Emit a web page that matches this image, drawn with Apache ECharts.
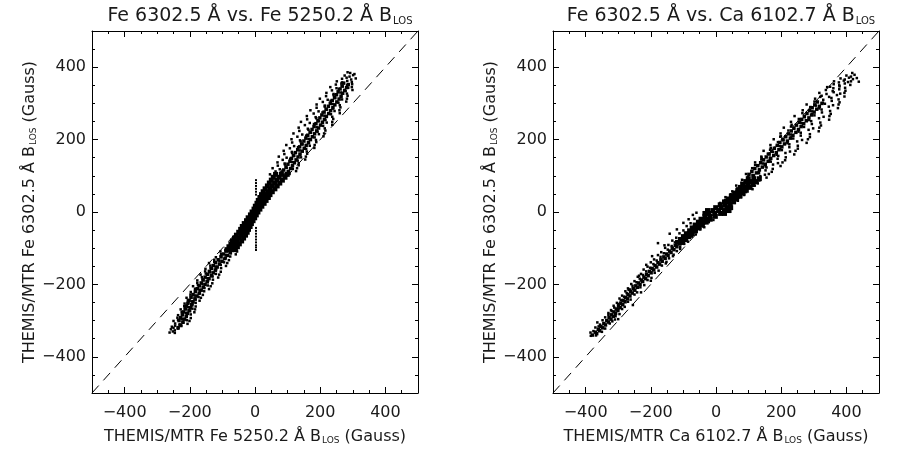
<!DOCTYPE html>
<html>
<head>
<meta charset="utf-8">
<script src="https://cdn.jsdelivr.net/npm/echarts@6/dist/echarts.min.js"></script>
<style>
  html, body { margin: 0; padding: 0; background: #fff; }
  #chart { width: 898px; height: 452px; }
</style>
</head>
<body>
<div id="chart"></div>
<script>
// ---- data (Gauss) ----
const tickValues = [-400, -200, 0, 200, 400];
const diagonal = [[-500, -500], [500, 500]];

// Fe 6302.5 vs Fe 5250.2 : scattered pixels
const leftHalo = [
  [-262,-333],[-252,-330],[-246,-334],[-258,-324],[-246,-327],[-236,-322],[-250,-320],
  [-255,-317],[-245,-314],[-235,-318],[-226,-315],[-245,-308],[-232,-311],[-220,-306],[-207,-309],
  [-250,-301],[-236,-298],[-222,-303],[-209,-299],[-201,-301],[-238,-292],[-224,-295],[-210,-290],[-197,-293],
  [-236,-285],[-222,-282],[-209,-286],[-197,-283],[-225,-276],[-212,-279],[-199,-274],[-186,-277],
  [-228,-269],[-215,-266],[-203,-271],[-192,-267],[-184,-269],[-217,-260],[-205,-263],[-193,-258],[-182,-261],
  [-216,-253],[-204,-250],[-192,-254],[-182,-251],[-206,-244],[-194,-247],[-182,-242],[-170,-245],
  [-210,-237],[-197,-234],[-185,-239],[-173,-235],[-166,-237],[-198,-228],[-185,-231],[-172,-226],[-160,-229],
  [-197,-221],[-183,-218],[-169,-222],[-156,-219],[-184,-212],[-170,-215],[-155,-210],[-141,-213],
  [-190,-205],[-175,-202],[-159,-207],[-145,-203],[-136,-205],[-177,-196],[-161,-199],[-145,-194],[-131,-197],
  [-177,-189],[-161,-186],[-144,-190],[-129,-187],[-163,-180],[-146,-183],[-130,-178],[-113,-181],
  [-167,-173],[-151,-170],[-134,-175],[-120,-171],[-110,-173],[-153,-164],[-137,-167],[-120,-162],[-105,-165],
  [-152,-157],[-136,-154],[-119,-158],[-104,-155],[-137,-148],[-121,-151],[-105,-146],[-89,-149],
  [-141,-141],[-125,-138],[-109,-143],[-95,-139],[-85,-141],[-125,-132],[-109,-135],[-94,-130],[-80,-133],
  [-120,-125],[-105,-122],[-90,-126],[-76,-123],[-104,-116],[-89,-119],[-74,-114],[-59,-117],
  [-106,-109],[-91,-106],[-77,-111],[-63,-107],[-55,-109],
  [46,104],[67,107],[87,102],[106,105],[63,112],[84,114],[105,110],[126,113],
  [54,121],[76,118],[97,122],[116,119],[129,121],[70,128],[92,131],[114,126],[134,129],
  [69,137],[91,134],[114,138],[134,135],[85,144],[108,147],[131,142],[154,145],
  [73,153],[97,150],[120,155],[141,151],[156,153],[90,160],[114,163],[138,158],[160,161],
  [88,169],[113,166],[137,170],[159,167],[107,176],[132,179],[157,174],[182,177],
  [96,185],[120,182],[146,187],[168,183],[183,185],[114,192],[140,195],[165,190],[188,193],
  [112,201],[138,198],[164,202],[187,199],[130,208],[157,211],[183,206],[210,209],
  [118,217],[145,214],[172,219],[196,215],[212,217],[136,224],[164,227],[192,222],[216,225],
  [134,233],[162,230],[189,234],[214,231],[153,240],[181,243],[209,238],[237,241],
  [141,249],[168,246],[196,251],[220,247],[237,249],[160,256],[188,259],[216,254],[240,257],
  [159,265],[186,262],[213,266],[237,263],[180,272],[207,275],[233,270],[260,273],
  [170,281],[195,278],[221,283],[244,279],[259,281],[189,288],[214,291],[239,286],[262,289],
  [189,297],[214,294],[238,298],[260,295],[208,304],[232,307],[256,302],[280,305],
  [199,313],[223,310],[246,315],[267,311],[282,313],[218,320],[241,323],[264,318],[284,321],
  [219,329],[241,326],[263,330],[282,327],[236,336],[257,339],[278,334],[299,337],
  [231,345],[250,342],[269,347],[286,343],[297,345],[248,352],[265,355],[283,350],[298,353],
  [251,361],[267,358],[283,362],[297,359],[267,368],[281,371],[295,366],[309,369],
  [275,377],[290,374],[301,378],[292,384],[305,381],[284,386]
];
// darker middle of the band
const leftSpine = [
  [-76,-112],[-84,-120],[-92,-128],[-101,-136],[-109,-144],[-116,-152],[-122,-160],[-128,-168],[-134,-176],
  [-141,-184],[-147,-192],[-153,-200],[-159,-208],[-165,-216],[-171,-224],[-178,-232],[-184,-240],[-190,-248],
  [-194,-256],[-198,-264],[-202,-272],[-207,-280],[-211,-288],[-216,-296],[-221,-304],[-228,-312],[-236,-320],
  [-88,-108],[-96,-116],[-104,-124],[-113,-132],[-121,-140],[-128,-148],[-134,-156],[-140,-164],[-146,-172],
  [-153,-180],[-159,-188],[-165,-196],[-171,-204],[-177,-212],[-183,-220],[-190,-228],[-196,-236],[-202,-244],
  [-206,-252],[-210,-260],[-214,-268],[-219,-276],[-223,-284],[-228,-292],[-233,-300],
  [81,108],[88,116],[95,124],[101,132],[107,140],[112,148],[118,156],[124,164],[131,172],[137,180],
  [143,188],[150,196],[156,204],[162,212],[169,220],[175,228],[181,236],[187,244],[193,252],[199,260],
  [205,268],[212,276],[218,284],[225,292],[231,300],[237,308],[244,316],[250,324],[255,332],[261,340],
  [267,348],[272,356],
  [95,104],[102,112],[109,120],[115,128],[121,136],[126,144],[132,152],[138,160],[145,168],[151,176],
  [157,184],[164,192],[170,200],[176,208],[183,216],[189,224],[195,232],[201,240],[207,248],[213,256],
  [219,264],[226,272],[232,280],[239,288],[245,296],[251,304],[258,312],[264,320],[269,328],[275,336],
  [281,344],[286,352]
];
// solid black core
const leftCore = [
  [-86,-104],[-73,-104],[-60,-104],[-80,-96],[-67,-96],[-54,-96],[-74,-88],[-61,-88],[-48,-88],
  [-69,-80],[-55,-80],[-41,-80],[-63,-72],[-49,-72],[-35,-72],[-57,-64],[-43,-64],[-29,-64],
  [-50,-56],[-37,-56],[-24,-56],[-44,-48],[-32,-48],[-20,-48],[-39,-40],[-27,-40],[-15,-40],
  [-33,-32],[-22,-32],[-11,-32],[-26,-24],[-16,-24],[-6,-24],[-21,-16],[-11,-16],[-1,-16],
  [-14,-8],[-5,-8],[4,-8],[-9,0],[0,0],[9,0],[-3,8],[6,8],[15,8],[1,16],[11,16],[21,16],
  [6,24],[17,24],[28,24],[10,32],[22,32],[34,32],[15,40],[28,40],[41,40],[20,48],[33,48],[46,48],
  [25,56],[39,56],[53,56],[31,64],[46,64],[61,64],[38,72],[53,72],[68,72],[44,80],[60,80],[76,80],
  [50,88],[67,88],[84,88],[56,96],[74,96],[92,96],[63,104],[81,104],[99,104]
];
// vertical streak at zero
const leftColumn = [
  [3,88],[3,80],[3,72],[3,64],[3,56],[3,48],
  [3,-44],[3,-52],[3,-60],[3,-68],[3,-76],[3,-84],[3,-92],[3,-98],[3,-105]
];

// Fe 6302.5 vs Ca 6102.7 : scattered pixels
const rightHalo = [
  [-384,-342],[-368,-341],[-376,-329],[-350,-331],[-385,-333],[-370,-319],[-340,-322],[-360,-316],
  [-356,-311],[-326,-308],[-364,-305],[-348,-299],[-318,-302],[-310,-297],[-340,-291],[-308,-288],[-330,-284],
  [-330,-279],[-296,-282],[-320,-274],[-322,-271],[-288,-268],[-312,-264],[-314,-259],[-280,-262],[-300,-254],
  [-304,-251],[-270,-248],[-292,-244],[-296,-239],[-262,-242],[-282,-234],[-288,-231],[-250,-228],[-274,-224],
  [-278,-219],[-242,-222],[-264,-214],[-270,-211],[-232,-208],[-256,-204],[-260,-199],[-220,-202],[-244,-194],
  [-250,-191],[-210,-188],[-234,-184],[-240,-179],[-198,-182],[-224,-174],[-230,-171],[-188,-168],[-214,-164],
  [-222,-159],[-176,-162],[-202,-154],[-210,-151],[-166,-148],[-192,-144],[-200,-139],[-154,-142],[-182,-134],
  [-190,-131],[-144,-128],[-170,-124],[-178,-119],[-132,-122],[-160,-114],[-168,-111],[-120,-108],[-148,-104],
  [-156,-99],[-110,-102],[-136,-94],[-146,-91],[-98,-88],[-126,-84],[-134,-79],[-86,-82],[-122,-71],[-74,-68],
  [-112,-59],[-62,-62],[-100,-51],[-48,-48],[-90,-39],[-36,-42],[-78,-31],[-22,-28],[-66,-19],[-8,-22],
  [-300,-268],[-268,-215],[-236,-176],[-214,-146],[-196,-122],[-178,-86],[-158,-92],[-142,-60],[-120,-48],
  [-100,-30],[-84,-20],[-71,-8],[-60,-2],
  [-255,-257],[-230,-222],[-200,-190],[-152,-138],[-130,-118],[-110,-96],[-300,-296],
  [13,25],[25,22],[37,27],[47,23],[28,33],[41,30],[54,35],[67,31],
  [29,41],[43,38],[56,43],[69,39],[77,41],[45,49],[59,46],[73,51],[86,47],
  [50,57],[65,54],[79,59],[92,55],[65,65],[81,62],[96,67],[112,63],
  [62,73],[78,70],[95,75],[110,71],[119,73],[78,81],[95,78],[113,83],[128,79],
  [80,89],[98,86],[116,91],[133,87],[98,97],[117,94],[136,99],[155,95],
  [92,105],[112,102],[132,107],[150,103],[162,105],[110,113],[131,110],[152,115],[171,111],
  [111,121],[133,118],[155,123],[174,119],[129,129],[152,126],[175,131],[198,127],
  [120,137],[144,134],[168,139],[190,135],[204,137],[139,145],[164,142],[189,147],[212,143],
  [139,153],[165,150],[191,155],[214,151],[159,161],[186,158],[213,163],[240,159],
  [146,169],[174,166],[202,171],[227,167],[244,169],[168,177],[197,174],[225,179],[251,175],
  [167,185],[196,182],[225,187],[251,183],[190,193],[219,190],[249,195],[278,191],
  [177,201],[207,198],[237,203],[264,199],[282,201],[199,209],[230,206],[260,211],[288,207],
  [198,217],[229,214],[260,219],[288,215],[222,225],[253,222],[284,227],[315,223],
  [208,233],[239,230],[270,235],[298,231],[317,233],[232,241],[263,238],[294,243],[322,239],
  [230,249],[261,246],[292,251],[320,247],[254,257],[285,254],[316,259],[347,255],
  [241,265],[272,262],[302,267],[330,263],[348,265],[265,273],[295,270],[325,275],[352,271],
  [266,281],[295,278],[324,283],[350,279],[289,289],[317,286],[346,291],[374,287],
  [278,297],[306,294],[334,299],[359,295],[376,297],[302,305],[328,302],[355,307],[379,303],
  [304,313],[329,310],[354,315],[376,311],[324,321],[347,318],[371,323],[394,319],
  [317,329],[339,326],[361,331],[381,327],[394,329],[337,337],[358,334],[378,339],[397,335],
  [341,345],[360,342],[379,347],[396,343],[361,353],[378,350],[395,355],[412,351],
  [362,361],[377,358],[392,363],[405,359],[414,361],[382,369],[395,366],[408,371],[420,367],
  [400,377],[414,374],[425,379],[438,360],[432,370],[418,384],
  [166,172],[197,208],[230,236],[258,250],[290,290],[320,318],[350,346],[140,150],[120,130]
];
const rightSpine = [
  [-379,-340],[-366,-336],[-370,-332],[-357,-328],[-361,-324],[-348,-320],[-353,-316],[-339,-312],[-344,-308],
  [-330,-304],[-335,-300],[-322,-296],[-328,-292],[-315,-288],[-321,-284],[-308,-280],[-313,-276],[-301,-272],
  [-306,-268],[-294,-264],[-299,-260],[-286,-256],[-292,-252],[-279,-248],[-285,-244],[-272,-240],[-277,-236],
  [-264,-232],[-270,-228],[-257,-224],[-262,-220],[-249,-216],[-254,-212],[-241,-208],[-246,-204],[-233,-200],
  [-238,-196],[-225,-192],[-229,-188],[-216,-184],[-221,-180],[-208,-176],[-213,-172],[-199,-168],[-204,-164],
  [-191,-160],[-196,-156],[-182,-152],[-187,-148],[-173,-144],[-178,-140],[-165,-136],[-169,-132],[-156,-128],
  [-160,-124],[-147,-120],[-151,-116],[-138,-112],[-142,-108],[-129,-104],[-134,-100],[-120,-96],[-125,-92],[-111,-88],
  [115,100],[124,108],[133,116],[142,124],[151,132],[160,140],[168,148],[177,156],[185,164],[193,172],
  [202,180],[210,188],[219,196],[228,204],[236,212],[245,220],[253,228],[261,236],[269,244],[277,252],
  [285,260],[293,268],[301,276],[309,284],[317,292],[325,300],
  [101,104],[110,112],[119,120],[128,128],[137,136],[146,144],[154,152],[163,160],[171,168],[179,176],
  [188,184],[196,192],[205,200],[214,208],[222,216],[231,224],[239,232],[247,240],[255,248],[263,256],
  [271,264],[279,272],[287,280],[295,288],[303,296],[311,304]
];
const rightCore = [
  [-118,-84],[-110,-84],[-102,-84],[-109,-76],[-101,-76],[-93,-76],[-100,-68],[-92,-68],[-84,-68],
  [-91,-60],[-82,-60],[-73,-60],[-81,-52],[-72,-52],[-63,-52],[-73,-44],[-63,-44],[-53,-44],
  [-64,-36],[-53,-36],[-42,-36],[-54,-28],[-42,-28],[-30,-28],[-46,-20],[-32,-20],[-18,-20],
  [-34,-12],[-18,-12],[-2,-12],[-34,-4],[-22,-4],[-4,-4],[14,-4],[26,-4],
  [-26,4],[-10,4],[8,4],[26,4],[40,4],[-1,12],[16,12],[33,12],[45,12],
  [13,20],[28,20],[43,20],[26,28],[40,28],[54,28],[37,36],[50,36],[63,36],[47,44],[60,44],[73,44],
  [57,52],[70,52],[83,52],[67,60],[80,60],[93,60],[75,68],[89,68],[103,68],[83,76],[98,76],[113,76],
  [91,84],[107,84],[123,84],[99,92],[116,92],[133,92]
];

const FONT = 'DejaVu Sans';
const INK = '#000';
const TXT = '#1a1a1a';

function fmt(v) {
  return v < 0 ? '\u2212' + Math.abs(v) : String(v);
}

function sideAxis(g, pos, withLabel, name) {
  const minor = {
    type: 'value', gridIndex: g, position: pos, min: -500, max: 500, interval: 50,
    axisLine: { show: true, onZero: false, lineStyle: { color: INK, width: 1 } },
    axisTick: { show: true, inside: true, length: 3, lineStyle: { color: INK } },
    axisLabel: withLabel
      ? { show: true, customValues: tickValues, formatter: fmt, color: TXT, fontFamily: FONT, fontSize: 16,
          margin: (pos === 'bottom' ? 12 : 6) }
      : { show: false },
    splitLine: { show: false }
  };
  if (name) Object.assign(minor, name);
  const major = {
    type: 'value', gridIndex: g, position: pos, min: -500, max: 500, interval: 50,
    axisLine: { show: false, onZero: false },
    axisTick: { show: true, inside: true, length: 6, customValues: tickValues, lineStyle: { color: INK } },
    axisLabel: { show: false },
    splitLine: { show: false }
  };
  return [minor, major];
}

function richName(text, sub, tail, extra) {
  return Object.assign({
    name: '{t|' + text + '}{s|' + sub + '}' + (tail ? '{t|' + tail + '}' : ''),
    nameLocation: 'middle',
    nameTextStyle: {
      rich: {
        t: { fontFamily: FONT, fontSize: 16, color: TXT, verticalAlign: 'bottom' },
        s: { fontFamily: FONT, fontSize: 9, color: TXT, verticalAlign: 'bottom', padding: [0, 0, 0, 1] }
      }
    }
  }, extra);
}

const xAxes = [];
const yAxes = [];
[
  { g: 0, xname: 'THEMIS/MTR Fe 5250.2 Å B' },
  { g: 1, xname: 'THEMIS/MTR Ca 6102.7 Å B' }
].forEach(p => {
  xAxes.push(...sideAxis(p.g, 'bottom', true, richName(p.xname, 'LOS', ' (Gauss)', { nameGap: 36 })));
  xAxes.push(...sideAxis(p.g, 'top', false));
  yAxes.push(...sideAxis(p.g, 'left', true, richName('THEMIS/MTR Fe 6302.5 Å B', 'LOS', ' (Gauss)', { nameGap: 54, nameRotate: 90 })));
  yAxes.push(...sideAxis(p.g, 'right', false));
});

function dots(data, ax, size) {
  return {
    type: 'scatter', xAxisIndex: ax, yAxisIndex: ax, data: data,
    symbol: 'rect', symbolSize: size,
    itemStyle: { color: INK, opacity: 1 },
    silent: true, animation: false
  };
}
function dashLine(ax) {
  return {
    type: 'line', xAxisIndex: ax, yAxisIndex: ax, data: diagonal,
    showSymbol: false, symbol: 'none',
    lineStyle: { color: INK, width: 1, type: [10, 7] },
    silent: true, animation: false, clip: true
  };
}

const titleRich = {
  t: { fontFamily: FONT, fontSize: 19, fontWeight: 'normal', color: TXT, verticalAlign: 'bottom' },
  s: { fontFamily: FONT, fontSize: 10, fontWeight: 'normal', color: TXT, verticalAlign: 'bottom', padding: [0, 0, 0, 1] }
};

const chart = echarts.init(document.getElementById('chart'), null, { renderer: 'canvas' });
chart.setOption({
  backgroundColor: '#fff',
  animation: false,
  title: [
    { text: '{t|Fe 6302.5 Å vs. Fe 5250.2 Å B}{s|LOS}', left: 255, top: 2, textAlign: 'center',
      textStyle: { fontWeight: 'normal', rich: titleRich } },
    { text: '{t|Fe 6302.5 Å vs. Ca 6102.7 Å B}{s|LOS}', left: 716, top: 2, textAlign: 'center',
      textStyle: { fontWeight: 'normal', rich: titleRich } }
  ],
  grid: [
    { left: 92, top: 31, width: 326, height: 362, containLabel: false },
    { left: 553, top: 31, width: 326, height: 362, containLabel: false }
  ],
  xAxis: xAxes,
  yAxis: yAxes,
  series: [
    dashLine(0),
    dots(leftHalo, 0, 2.5),
    dots(leftSpine, 0, 3.5),
    dots(leftCore, 0, 5),
    dots(leftColumn, 0, 2),
    dashLine(4),
    dots(rightHalo, 4, 2.5),
    dots(rightSpine, 4, 3.5),
    dots(rightCore, 4, 5)
  ]
});
</script>
</body>
</html>
